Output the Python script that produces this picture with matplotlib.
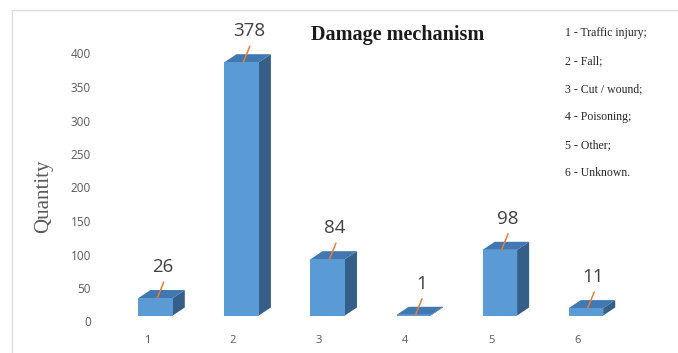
import matplotlib
matplotlib.use('Agg')
import matplotlib.pyplot as plt
import matplotlib.transforms as mtransforms
from matplotlib.patches import Polygon, Rectangle

# data
categories = [1, 2, 3, 4, 5, 6]
quantity = [26, 378, 84, 1, 98, 11]
legend_lines = ["1 - Traffic injury;", "2 - Fall;", "3 - Cut / wound;",
                "4 - Poisoning;", "5 - Other;", "6 - Unknown."]
y_ticks = [0, 50, 100, 150, 200, 250, 300, 350, 400]

# colours of the pseudo-3d columns
front_col = '#5B9BD5'
top_col = '#4178B2'
side_col = '#355F88'
leader_col = '#ED7D31'

fig = plt.figure(figsize=(6.78, 3.53), dpi=100)
W, H = 678, 353

# axes placed so that one category step is ~86 px and 1 unit ~0.67 px
ax = fig.add_axes([112.5 / W, (H - 315.5) / H, 516.5 / W, 268 / H])
ax.set_xlim(0.5, 6.5)
ax.set_ylim(0, 400)
for s in ax.spines.values():
    s.set_visible(False)

bw = 0.4      # bar width (category units)
dx = 0.14     # depth offset in x
dy = 12       # depth offset in y (value units)

for x, v in zip(categories, quantity):
    x0, x1 = x - bw / 2, x + bw / 2
    ax.add_patch(Polygon([(x1, 0), (x1 + dx, dy), (x1 + dx, v + dy), (x1, v)],
                         closed=True, fc=side_col, ec='none', clip_on=False))
    ax.add_patch(Polygon([(x0, v), (x1, v), (x1 + dx, v + dy), (x0 + dx, v + dy)],
                         closed=True, fc=top_col, ec='none', clip_on=False))
    ax.add_patch(Rectangle((x0, 0), bw, v, fc=front_col, ec='none', clip_on=False))
    # leader line + value label
    ax.annotate('', xy=(x + 0.02, v), xytext=(6.5, 16), textcoords='offset pixels',
                arrowprops=dict(arrowstyle='-', color=leader_col, lw=1.1,
                                shrinkA=0, shrinkB=0), annotation_clip=False)
    ax.annotate(str(v), xy=(x, v), xytext=(7.5, 31), textcoords='offset pixels',
                ha='center', va='center', fontsize=13.5, color='#404040',
                family='Open Sans', annotation_clip=False)

# axis ticks and labels
ax.set_xticks(categories)
ax.set_xticklabels([str(c) for c in categories], family='Open Sans',
                   fontsize=8, color='#595959')
ax.set_yticks(y_ticks)
ax.set_yticklabels([str(t) for t in y_ticks], family='Open Sans',
                   fontsize=8.5, color='#595959')
ax.tick_params(axis='x', length=0, pad=14)
ax.tick_params(axis='y', length=0, pad=15.5)

# shift tick labels the way the 3d chart draws them
x_shift = mtransforms.ScaledTranslation(-8.5 / 100, 0, fig.dpi_scale_trans)
for lbl in ax.get_xticklabels():
    lbl.set_transform(lbl.get_transform() + x_shift)
y_shift = mtransforms.ScaledTranslation(0, -6 / 100, fig.dpi_scale_trans)
for lbl in ax.get_yticklabels():
    lbl.set_transform(lbl.get_transform() + y_shift)

ax.set_ylabel('Quantity', family='Liberation Serif', fontsize=15, color='#595959')
ax.yaxis.set_label_coords(53 / W, (H - 196) / H, transform=fig.transFigure)

fig.text(398 / W, 1 - 35 / H, 'Damage mechanism', ha='center', va='center',
         family='Liberation Serif', fontweight='bold', fontsize=14.5, color='#1a1a1a')

for i, line in enumerate(legend_lines):
    fig.text(565 / W, 1 - (33 + 28 * i) / H, line, ha='left', va='center',
             family='Liberation Serif', fontsize=8.5, color='#262626')

# light frame along top and left
fig.add_artist(plt.Line2D([12 / W, 1], [1 - 10 / H, 1 - 10 / H],
                          transform=fig.transFigure, color='#dcdcdc', lw=1))
fig.add_artist(plt.Line2D([12 / W, 12 / W], [0, 1 - 10 / H],
                          transform=fig.transFigure, color='#dcdcdc', lw=1))

fig.savefig('out.png', dpi=100)
